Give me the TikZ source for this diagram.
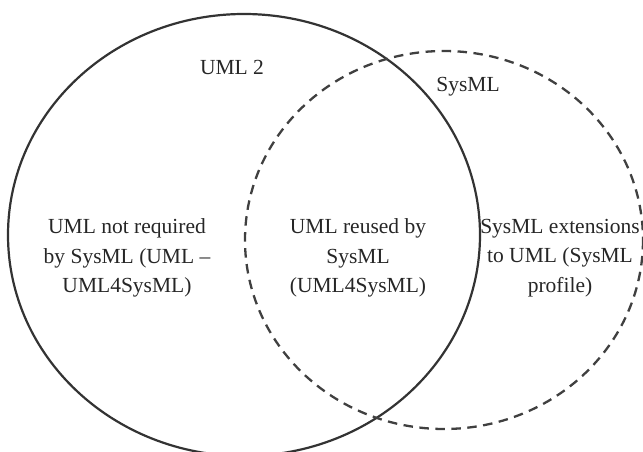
\documentclass[tikz,border=0pt]{standalone}
\usepackage{fontspec}
\setmainfont{Liberation Serif}
\begin{document}
\begin{tikzpicture}[x=1pt,y=-1pt,
  setline/.style={draw=black!80, line width=2.2pt},
  subsetline/.style={draw=black!75, line width=2.3pt, dash pattern=on 9.5pt off 6.5pt},
  lbl/.style={font=\fontsize{21.5}{29.5}\selectfont, text=black!85, align=center, inner sep=0pt}]
  \useasboundingbox (0,0) rectangle (643,452);
  % UML 2 (solid) and SysML (dashed) sets
  \draw[setline] (244,235) ellipse [x radius=236, y radius=221];
  \draw[subsetline] (444,240) ellipse [x radius=199, y radius=189];
  % set names
  \node[lbl] (uml) at (232,67) {UML 2};
  \node[lbl] (sysml) at (468,87) {SysML};
  % region descriptions
  \node[lbl] (notreq) at (127,258) {UML not required\\by SysML (UML –\\UML4SysML)};
  \node[lbl] (reused) at (358,258) {UML reused by\\SysML\\(UML4SysML)};
  \node[lbl] (ext) at (560,258) {SysML extensions\\to UML (SysML\\profile)};
\end{tikzpicture}
\end{document}
